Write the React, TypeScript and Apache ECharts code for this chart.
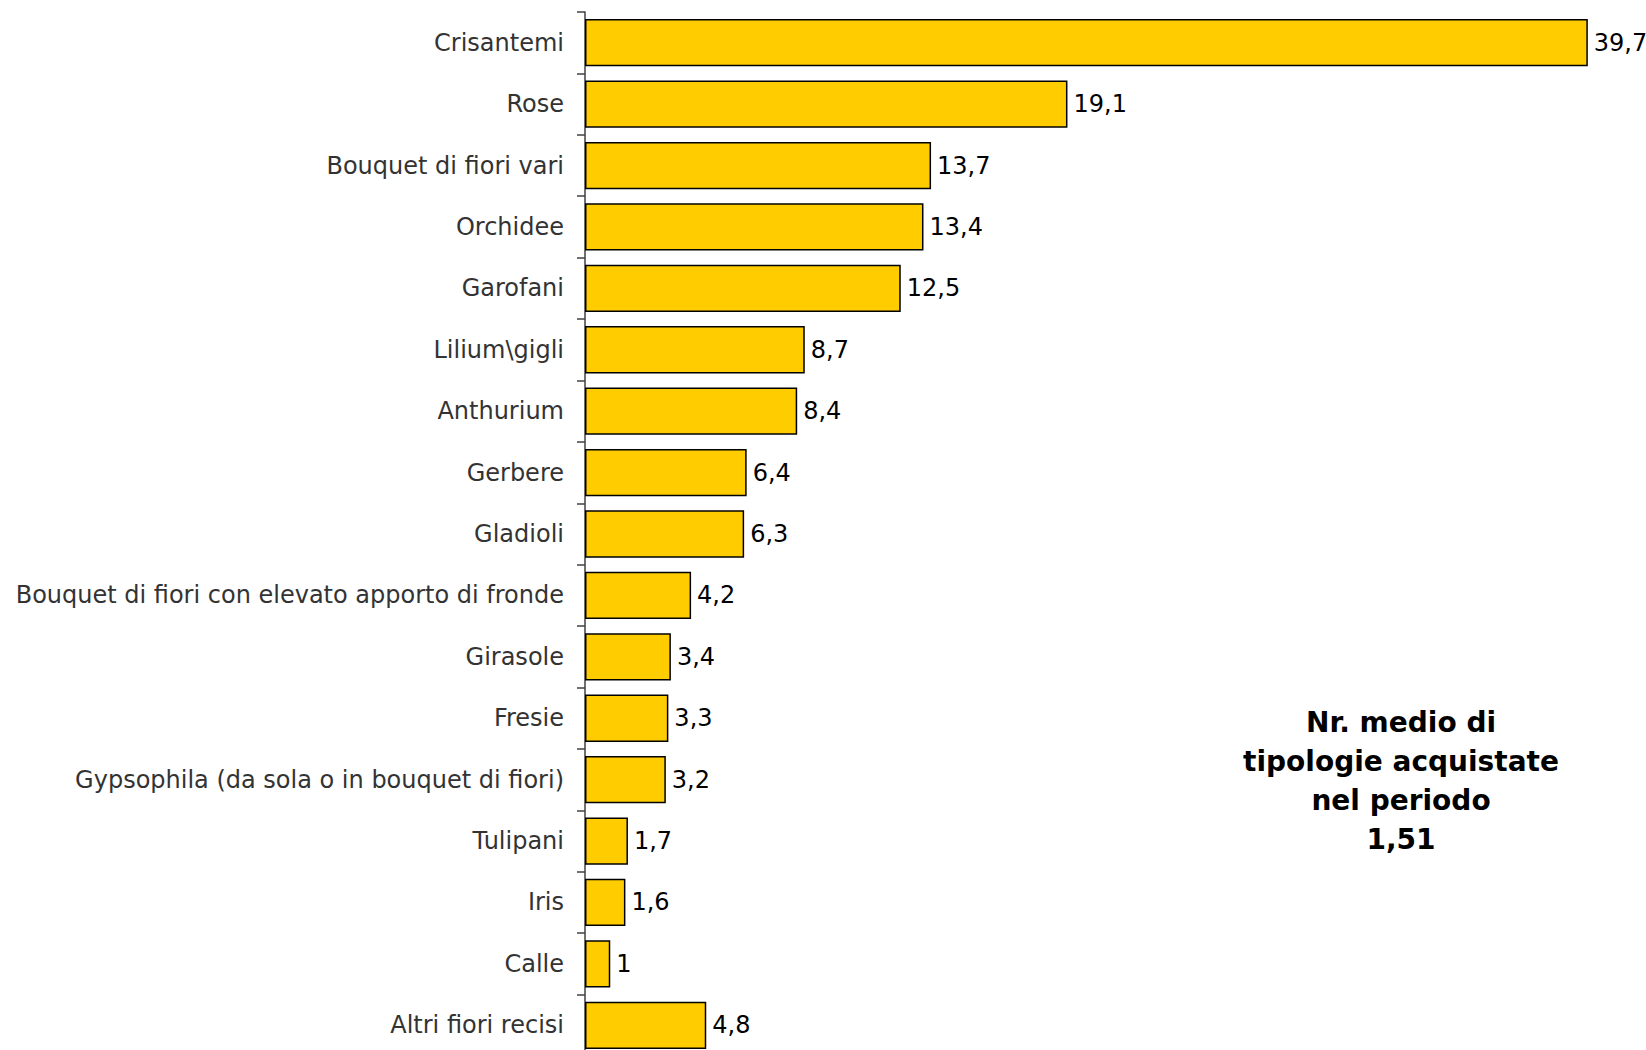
import React, { useEffect, useRef } from "react";
import * as echarts from "echarts";

const categories = [
  "Crisantemi",
  "Rose",
  "Bouquet di fiori vari",
  "Orchidee",
  "Garofani",
  "Lilium\\gigli",
  "Anthurium",
  "Gerbere",
  "Gladioli",
  "Bouquet di fiori con elevato apporto di fronde",
  "Girasole",
  "Fresie",
  "Gypsophila (da sola o in bouquet di fiori)",
  "Tulipani",
  "Iris",
  "Calle",
  "Altri fiori recisi",
];
const values = [39.7, 19.1, 13.7, 13.4, 12.5, 8.7, 8.4, 6.4, 6.3, 4.2, 3.4, 3.3, 3.2, 1.7, 1.6, 1, 4.8];
const noteLines = ["Nr. medio di", "tipologie acquistate", "nel periodo", "1,51"];

export default function App() {
  const ref = useRef<HTMLDivElement>(null);
  useEffect(() => {
    if (!ref.current) return;
    const chart = echarts.init(ref.current, undefined, { renderer: "svg" });
    chart.setOption({
      animation: false,
      backgroundColor: "#ffffff",
      grid: { left: 585, top: 12, width: 1010.4, height: 1044, containLabel: false },
      xAxis: {
        type: "value",
        min: 0,
        max: 40,
        show: false,
      },
      yAxis: {
        type: "category",
        data: categories,
        inverse: true,
        axisLine: { show: true, lineStyle: { color: "#404040", width: 1.5 } },
        axisTick: { show: true, length: 8, inside: false, lineStyle: { color: "#404040", width: 1.5 } },
        axisLabel: {
          fontFamily: "DejaVu Sans",
          fontSize: 24,
          color: "#333333",
          margin: 21,
        },
      },
      series: [
        {
          type: "bar",
          data: values,
          barCategoryGap: "23%",
          itemStyle: { color: "#FFCC00", borderColor: "#000000", borderWidth: 1.5 },
          label: {
            show: true,
            position: "right",
            distance: 6,
            fontFamily: "DejaVu Sans",
            fontSize: 24,
            color: "#000000",
            formatter: (p: any) => String(p.value).replace(".", ","),
          },
        },
      ],
      graphic: [
        {
          type: "text",
          x: 1401,
          y: 703,
          style: {
            text: noteLines.join("\n"),
            align: "center",
            verticalAlign: "top",
            fontFamily: "DejaVu Sans",
            fontWeight: "bold",
            fontSize: 28,
            lineHeight: 39,
            fill: "#000000",
          },
        },
      ],
    });
    return () => chart.dispose();
  }, []);
  return (
    <div
      ref={ref}
      style={{ position: "fixed", left: 0, top: 0, width: 1646, height: 1060 }}
    />
  );
}
